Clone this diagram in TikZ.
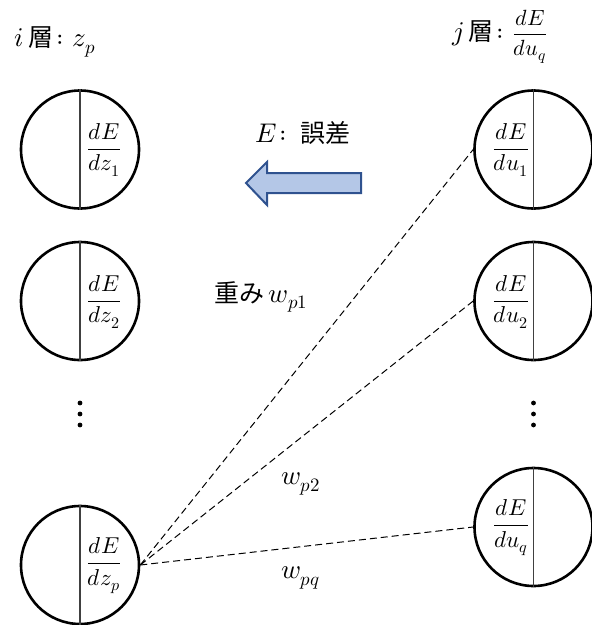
\documentclass[tikz,border=0pt]{standalone}
\usepackage{fontspec}
\usepackage{amsmath}
\usepackage{unicode-math}
\setmathfont{Latin Modern Math}
\newfontfamily\jp{Noto Sans CJK JP}
\definecolor{arrfill}{HTML}{B4C7E7}
\definecolor{arrdraw}{HTML}{2F528F}
\newcommand{\jpt}[1]{{\jp\fontsize{25}{28}\selectfont #1}}
\newcommand{\hfr}[2]{{\fontsize{22}{26}\selectfont$\dfrac{#1}{#2}$}}
\begin{document}
\begin{tikzpicture}[x=1pt,y=-1pt,
  unit/.style={circle,draw,line width=2.6pt,minimum size=118pt,inner sep=0pt},
  frac/.style={inner sep=0pt,font=\fontsize{23}{27}\selectfont},
  lbl/.style={inner sep=0pt,font=\fontsize{27}{31}\selectfont},
  conn/.style={line width=1pt,dash pattern=on 7pt off 4pt},
  divline/.style={line width=1.3pt,draw=black!75},
  vdotc/.style={fill=black}]
\useasboundingbox (0,0) rectangle (592,625);
% left layer
\node[unit] (L1) at (80,149.5) {};
\node[unit] (L2) at (80,301) {};
\node[unit] (Lp) at (80,565) {};
% right layer
\node[unit] (R1) at (533.5,149.5) {};
\node[unit] (R2) at (533.5,301) {};
\node[unit] (Rq) at (533.5,527) {};
\foreach \n in {L1,L2,Lp,R1,R2,Rq}{\draw[divline] (\n.north) -- (\n.south);}
% fractions
\node[frac] (fL1) at (104,150) {$\dfrac{dE}{dz_1}$};
\node[frac] (fL2) at (104,302) {$\dfrac{dE}{dz_2}$};
\node[frac] (fLp) at (104,566) {$\dfrac{dE}{dz_p}$};
\node[frac] (fR1) at (511,150) {$\dfrac{dE}{du_1}$};
\node[frac] (fR2) at (511,302) {$\dfrac{dE}{du_2}$};
\node[frac] (fRq) at (511,528) {$\dfrac{dE}{du_q}$};
% dots
\foreach \yy in {403,414,425}{
  \fill[vdotc] (80,\yy) circle (2.4pt);
  \fill[vdotc] (533.5,\yy) circle (2.4pt);}
% headers
\node[lbl,anchor=west] (hi) at (14,42) {$i$\,\jpt{層}$\colon z_p$};
\node[lbl,anchor=west] (hj) at (452,37) {$j$\,\jpt{層}$\colon$\hfr{dE}{du_q}};
\node[lbl] (err) at (303,133) {$E\colon$\,\jpt{誤差}};
% arrow
\draw[line width=2pt,draw=arrdraw,fill=arrfill,line join=miter]
  (361,173) -- (267,173) -- (267,162) -- (246,183) -- (267,205) -- (267,193) -- (361,193) -- cycle;
% connectors
\draw[conn] (Lp.east) -- (R1.west);
\draw[conn] (Lp.east) -- (R2.west);
\draw[conn] (Lp.east) -- (Rq.west);
% weights
\node[lbl,anchor=west] (w1) at (214,297) {\jpt{重み}\,$w_{p1}$};
\node[lbl] (w2) at (301,484) {$w_{p2}$};
\node[lbl] (wq) at (301,578) {$w_{pq}$};
\end{tikzpicture}
\end{document}
